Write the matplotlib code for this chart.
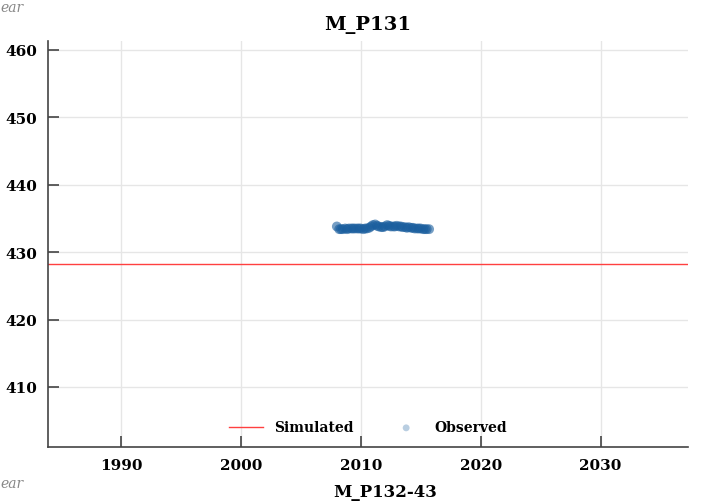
import matplotlib
matplotlib.use("Agg")
import matplotlib.pyplot as plt

# observed heads, roughly every two months
obs_years = [2008.0, 2008.2, 2008.35, 2008.5, 2008.7, 2008.85, 2009.0, 2009.2, 2009.35,
             2009.5, 2009.7, 2009.85, 2010.0, 2010.2, 2010.35, 2010.5, 2010.7, 2010.85,
             2011.0, 2011.2, 2011.35, 2011.5, 2011.7, 2011.85, 2012.0, 2012.2, 2012.35,
             2012.5, 2012.7, 2012.85, 2013.0, 2013.2, 2013.35, 2013.5, 2013.7, 2013.85,
             2014.0, 2014.2, 2014.35, 2014.5, 2014.7, 2014.85, 2015.0, 2015.2, 2015.35,
             2015.5, 2015.7]
obs_heads = [433.8, 433.4, 433.4, 433.4, 433.5, 433.4, 433.5, 433.5, 433.5,
             433.5, 433.5, 433.5, 433.5, 433.4, 433.5, 433.5, 433.6, 433.8,
             434.0, 434.1, 433.9, 433.8, 433.7, 433.7, 433.8, 434.0, 433.9,
             433.8, 433.8, 433.8, 433.9, 433.8, 433.8, 433.7, 433.7, 433.6,
             433.7, 433.6, 433.6, 433.5, 433.5, 433.5, 433.5, 433.4, 433.4,
             433.4, 433.4]
sim_head = 428.3
xticks = [1990, 2000, 2010, 2020, 2030]
yticks = [410, 420, 430, 440, 450, 460]

plt.rcParams['font.family'] = ['DejaVu Serif']
plt.rcParams['font.weight'] = 'bold'

fig = plt.figure(figsize=(7.01, 5.02), dpi=100)
ax = fig.add_axes([48/701, 1 - 448/502, 640/701, 406/502])

ax.axhline(sim_head, color='#ff4040', lw=1, label='Simulated', zorder=2)
ax.scatter(obs_years, obs_heads, s=50, color='#1a5e9e', alpha=0.6,
           edgecolors='none', label='Observed', zorder=3)

ax.set_xlim(1983.9, 2037.3)
ax.set_ylim(401.1, 461.3)
ax.set_xticks(xticks)
ax.set_yticks(yticks)
ax.grid(True, color='#e6e6e6', lw=1)
ax.set_axisbelow(True)
for s in ['top', 'right']:
    ax.spines[s].set_visible(False)
for s in ['left', 'bottom']:
    ax.spines[s].set_color('#444444')
    ax.spines[s].set_linewidth(1.2)
ax.tick_params(direction='in', length=8, width=1.2, color='#444444',
               labelsize=11, pad=8)
for lab in ax.get_xticklabels() + ax.get_yticklabels():
    lab.set_fontweight('bold')

ax.set_title('M_P131', fontsize=14, fontweight='bold', pad=9)
leg = ax.legend(loc='lower center', ncol=2, frameon=False, fontsize=10,
                bbox_to_anchor=(0.5, 0.0), columnspacing=2.6, handlelength=2.4,
                markerscale=0.7)
leg.legend_handles[1].set_alpha(0.3)

# fragments of neighbouring panels
fig.text(0.0, 0.985, 'ear', color='#888888', style='italic', fontsize=10,
         fontweight='normal', va='center')
fig.text(0.0, 0.035, 'ear', color='#888888', style='italic', fontsize=10,
         fontweight='normal', va='center')
fig.text(0.55, 0.002, 'M_P132-43', fontsize=12, fontweight='bold',
         ha='center', va='bottom')

fig.savefig('out.png', dpi=100)
